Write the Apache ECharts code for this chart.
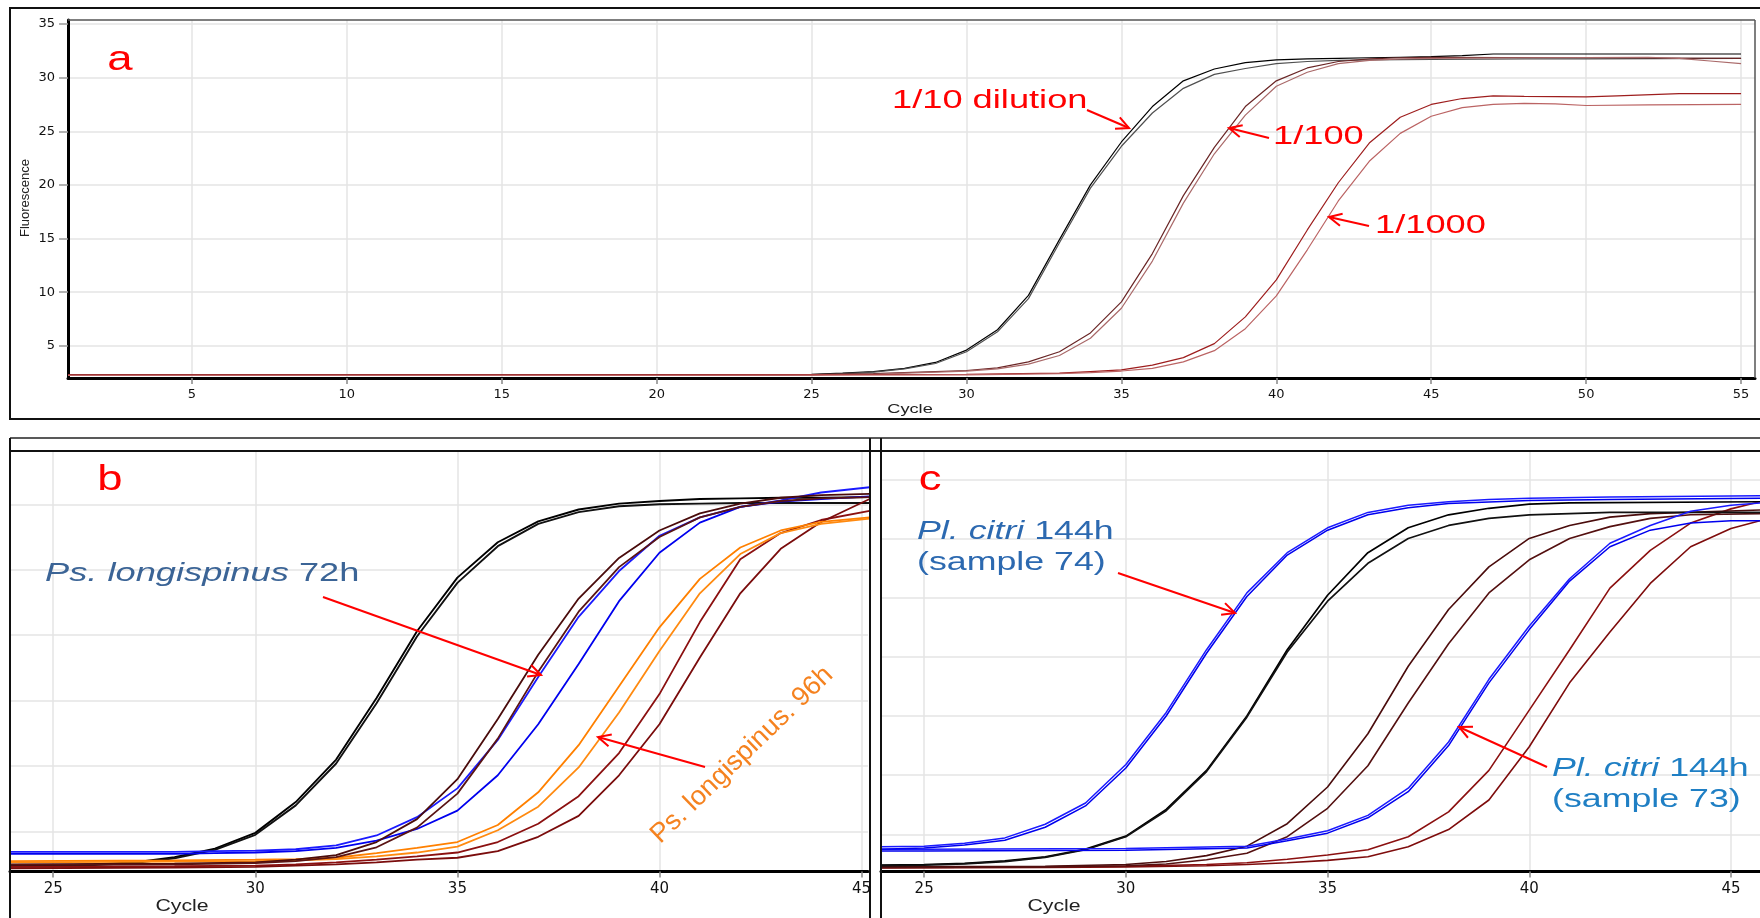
<!DOCTYPE html>
<html><head><meta charset="utf-8">
<script src="https://cdn.jsdelivr.net/npm/echarts@6/dist/echarts.min.js"></script>
<style>html,body{margin:0;padding:0;background:#fff}#c{width:1760px;height:918px}</style>
</head><body><div id="c"></div><script>
// ---- tick values ----
const aTicksX = [5,10,15,20,25,30,35,40,45,50,55];
const aTicksY = [5,10,15,20,25,30,35];
const bcTicksX = [25,30,35,40,45];
const bTicksY = [5,10,15,20,25,30];
const cTicksY = [5,10,15,20,25,30,35];

// ---- panel a : dilution series [cycle, fluorescence] ----
const aDil10_1 = [[1,2.3],[5,2.3],[10,2.3],[15,2.3],[20,2.3],[24,2.32],[25,2.35],[26,2.45],[27,2.6],[28,2.9],[29,3.45],[30,4.6],[31,6.5],[32,9.7],[33,14.9],[34,20.0],[35,24.0],[36,27.3],[37,29.7],[38,30.8],[39,31.4],[40,31.65],[41,31.75],[42,31.8],[43,31.85],[44,31.9],[45,31.95],[46,32.05],[47,32.2],[50,32.2],[55,32.2]];
const aDil10_2 = [[1,2.25],[10,2.25],[20,2.25],[24,2.28],[25,2.3],[26,2.4],[27,2.55],[28,2.85],[29,3.35],[30,4.45],[31,6.3],[32,9.4],[33,14.6],[34,19.7],[35,23.6],[36,26.7],[37,29.0],[38,30.3],[39,30.85],[40,31.3],[41,31.5],[42,31.6],[43,31.65],[45,31.7],[48,31.75],[50,31.75],[55,31.8]];
const aDil100_1 = [[1,2.3],[10,2.3],[20,2.3],[25,2.32],[27,2.4],[28,2.5],[29,2.6],[30,2.7],[31,2.95],[32,3.5],[33,4.45],[34,6.2],[35,9.1],[36,13.6],[37,19.0],[38,23.5],[39,27.3],[40,29.7],[41,30.9],[42,31.5],[43,31.75],[44,31.85],[45,31.9],[50,31.85],[55,31.8]];
const aDil100_2 = [[1,2.25],[10,2.25],[20,2.25],[25,2.28],[27,2.35],[28,2.45],[29,2.55],[30,2.65],[31,2.85],[32,3.3],[33,4.1],[34,5.7],[35,8.5],[36,12.9],[37,18.3],[38,22.9],[39,26.5],[40,29.2],[41,30.5],[42,31.3],[43,31.6],[44,31.75],[45,31.8],[48,31.85],[52,31.9],[53,31.8],[54,31.55],[55,31.3]];
const aDil1000_1 = [[1,2.3],[10,2.3],[20,2.3],[30,2.35],[33,2.45],[34,2.6],[35,2.75],[36,3.2],[37,3.9],[38,5.2],[39,7.7],[40,11.15],[41,15.8],[42,20.2],[43,23.9],[44,26.3],[45,27.5],[46,28.05],[47,28.3],[48,28.25],[50,28.2],[51,28.3],[53,28.5],[55,28.5]];
const aDil1000_2 = [[1,2.25],[10,2.25],[20,2.25],[30,2.3],[33,2.4],[34,2.5],[35,2.65],[36,2.9],[37,3.5],[38,4.55],[39,6.6],[40,9.65],[41,13.95],[42,18.5],[43,22.2],[44,24.8],[45,26.4],[46,27.2],[47,27.5],[48,27.6],[49,27.55],[50,27.4],[52,27.45],[55,27.5]];

// ---- panel b ----
const bBlack1 = [[23.9,2.4],[25,2.4],[26,2.5],[27,2.65],[28,3.05],[29,3.7],[30,4.9],[31,7.25],[32,10.5],[33,15.2],[34,20.3],[35,24.4],[36,27.1],[37,28.7],[38,29.6],[39,30.05],[40,30.25],[41,30.4],[42,30.45],[43,30.5],[44,30.5],[45.2,30.55]];
const bBlack2 = [[23.9,2.35],[25,2.35],[26,2.45],[27,2.6],[28,2.95],[29,3.6],[30,4.75],[31,7.0],[32,10.2],[33,14.8],[34,19.9],[35,24.0],[36,26.8],[37,28.5],[38,29.4],[39,29.85],[40,30.0],[41,30.05],[42,30.1],[43,30.1],[45.2,30.1]];
const bBrown1 = [[23.9,2.5],[28,2.55],[30,2.65],[31,2.85],[32,3.2],[33,4.2],[34,5.95],[35,9.0],[36,13.6],[37,18.5],[38,22.8],[39,25.9],[40,28.0],[41,29.3],[42,30.05],[43,30.5],[44,30.7],[45.2,30.8]];
const bBrown2 = [[23.9,2.45],[28,2.5],[30,2.6],[31,2.75],[32,3.05],[33,3.8],[34,5.3],[35,7.9],[36,12.1],[37,17.2],[38,21.8],[39,25.2],[40,27.5],[41,29.0],[42,29.8],[43,30.25],[44,30.45],[45.2,30.55]];
const bBlue1 = [[23.9,3.45],[28,3.45],[29,3.5],[30,3.55],[31,3.65],[32,3.95],[33,4.7],[34,6.1],[35,8.3],[36,12.0],[37,16.8],[38,21.4],[39,24.9],[40,27.6],[41,29.0],[42,29.8],[43,30.3],[44,30.9],[45.2,31.3]];
const bBlue2 = [[23.9,3.3],[28,3.3],[29,3.35],[30,3.4],[31,3.5],[32,3.75],[33,4.3],[34,5.2],[35,6.6],[36,9.3],[37,13.2],[38,17.8],[39,22.6],[40,26.3],[41,28.6],[42,29.8],[43,30.2],[44,30.4],[45.2,30.6]];
const bOrange1 = [[23.9,2.75],[28,2.8],[30,2.85],[31,2.9],[32,3.0],[33,3.35],[34,3.75],[35,4.2],[36,5.5],[37,8.0],[38,11.6],[39,16.1],[40,20.6],[41,24.3],[42,26.7],[43,28.0],[44,28.65],[45.2,29.0]];
const bOrange2 = [[23.9,2.65],[28,2.7],[30,2.75],[31,2.8],[32,2.9],[33,3.1],[34,3.4],[35,3.85],[36,5.1],[37,6.9],[38,9.9],[39,14.1],[40,18.8],[41,23.2],[42,26.2],[43,27.8],[44,28.5],[45.2,28.9]];
const bRed1 = [[23.9,2.3],[28,2.35],[30,2.4],[31,2.5],[32,2.65],[33,2.85],[34,3.1],[35,3.4],[36,4.2],[37,5.6],[38,7.7],[39,11.0],[40,15.5],[41,21.0],[42,25.8],[43,27.8],[44,28.8],[45.2,29.5]];
const bRed2 = [[23.9,2.2],[28,2.25],[30,2.3],[31,2.4],[32,2.5],[33,2.65],[34,2.85],[35,3.0],[36,3.5],[37,4.6],[38,6.2],[39,9.3],[40,13.2],[41,18.3],[42,23.2],[43,26.6],[44,28.65],[45.2,30.4]];

// ---- panel c ----
const cBlue74a = [[23.9,3.95],[25,4.0],[26,4.25],[27,4.7],[28,5.85],[29,7.65],[30,10.9],[31,15.3],[32,20.6],[33,25.4],[34,28.8],[35,30.9],[36,32.2],[37,32.8],[38,33.1],[39,33.3],[40,33.4],[42,33.5],[45.72,33.6]];
const cBlue74b = [[23.9,3.75],[25,3.85],[26,4.1],[27,4.5],[28,5.6],[29,7.4],[30,10.6],[31,15.0],[32,20.3],[33,25.1],[34,28.6],[35,30.7],[36,32.0],[37,32.6],[38,32.95],[40,33.2],[42,33.3],[45.72,33.4]];
const cBlue73a = [[23.9,3.75],[25,3.75],[30,3.8],[33,4.0],[34,4.6],[35,5.3],[36,6.6],[37,8.9],[38,12.8],[39,18.1],[40,22.6],[41,26.6],[42,29.6],[43,31.1],[44,32.3],[45,32.8],[45.72,33.0]];
const cBlue73b = [[23.9,3.6],[25,3.6],[30,3.65],[33,3.85],[34,4.45],[35,5.1],[36,6.4],[37,8.6],[38,12.5],[39,17.8],[40,22.3],[41,26.4],[42,29.3],[43,30.7],[44,31.3],[45,31.5],[45.72,31.5]];
const cBlack1 = [[23.9,2.4],[25,2.45],[26,2.55],[27,2.75],[28,3.1],[29,3.75],[30,4.85],[31,7.1],[32,10.4],[33,15.0],[34,20.6],[35,25.2],[36,28.8],[37,30.9],[38,32.0],[39,32.55],[40,32.9],[41,33.0],[45.72,33.1]];
const cBlack2 = [[23.9,2.35],[25,2.4],[26,2.5],[27,2.7],[28,3.05],[29,3.7],[30,4.8],[31,7.0],[32,10.3],[33,14.9],[34,20.4],[35,24.7],[36,27.9],[37,30.0],[38,31.1],[39,31.7],[40,32.0],[42,32.2],[45.72,32.2]];
const cBrown1 = [[23.9,2.25],[28,2.3],[30,2.45],[31,2.7],[32,3.2],[33,4.0],[34,5.9],[35,9.0],[36,13.5],[37,19.2],[38,24.0],[39,27.6],[40,30.0],[41,31.1],[42,31.8],[43,32.1],[45.72,32.4]];
const cBrown2 = [[23.9,2.2],[28,2.25],[30,2.35],[31,2.5],[32,2.85],[33,3.4],[34,4.8],[35,7.2],[36,10.8],[37,16.1],[38,21.1],[39,25.4],[40,28.2],[41,30.0],[42,31.0],[43,31.7],[44,32.0],[45.72,32.1]];
const cRed1 = [[23.9,2.2],[28,2.25],[30,2.3],[32,2.45],[33,2.6],[34,2.9],[35,3.25],[36,3.7],[37,4.8],[38,6.9],[39,10.4],[40,15.5],[41,20.6],[42,25.8],[43,29.0],[44,31.3],[45,32.5],[45.72,33.1]];
const cRed2 = [[23.9,2.15],[28,2.2],[30,2.25],[32,2.35],[33,2.45],[34,2.6],[35,2.8],[36,3.1],[37,3.95],[38,5.4],[39,7.9],[40,12.4],[41,17.8],[42,22.1],[43,26.2],[44,29.3],[45,30.85],[45.72,31.5]];

// ---- helpers ----
const SANS = 'Liberation Sans, Arial, sans-serif';
function ln(name, data, gi, color, w) {
  return {type:'line', name, data, xAxisIndex:gi, yAxisIndex:gi, showSymbol:false, symbol:'none',
    lineStyle:{color, width:w}, itemStyle:{color}, silent:true, animation:false, clip:true};
}
const grid = '#e4e4e4';
function xAx(gi, min, max, ticks, fs, margin) {
  return {type:'value', gridIndex:gi, min, max,
    axisLine:{show:true, onZero:false, lineStyle:{color:'#000', width:3}},
    axisTick:{show:true, customValues:ticks, length:6, lineStyle:{color:'#888', width:1.5}},
    axisLabel:{customValues:ticks, fontSize:fs, color:'#111', margin, fontFamily:'DejaVu Sans'},
    splitLine:{show:true, lineStyle:{color:grid, width:1.5}}};
}
function yAxHidden(gi, min, max, ticks) {
  return {type:'value', gridIndex:gi, min, max,
    axisLine:{show:false}, axisTick:{show:false, customValues:ticks},
    axisLabel:{show:false, customValues:ticks},
    splitLine:{show:true, lineStyle:{color:grid, width:1.5}}};
}
function arrow(x1,y1,x2,y2,color) {
  const a = Math.atan2(y2-y1, x2-x1), L = 14, s = 0.45;
  const p1 = [x2 - L*Math.cos(a-s), y2 - L*Math.sin(a-s)];
  const p2 = [x2 - L*Math.cos(a+s), y2 - L*Math.sin(a+s)];
  return [
    {type:'line', z:100, shape:{x1,y1,x2,y2}, style:{stroke:color, lineWidth:2}},
    {type:'polyline', z:100, shape:{points:[p1,[x2,y2],p2]}, style:{stroke:color, lineWidth:2, fill:null}}
  ];
}
function txt(x, y, text, opt) {
  return Object.assign({type:'text', z:100, x, y, scaleX: opt.scaleX || 1, rotation: opt.rotation || 0,
    style:{text, fill:opt.color, fontSize:opt.fontSize, fontFamily:opt.fontFamily || SANS,
      fontStyle:opt.fontStyle || 'normal', fontWeight: opt.fontWeight || 'normal',
      align:opt.align || 'left', verticalAlign:'middle', textAlign:opt.align || 'left', textVerticalAlign:'middle',
      rich: opt.rich}});
}
function richPair(fs, color) {
  return {i:{fontStyle:'italic', fontSize:fs, fontFamily:SANS, fill:color, color:color},
          n:{fontStyle:'normal', fontSize:fs, fontFamily:SANS, fill:color, color:color}};
}

const chart = echarts.init(document.getElementById('c'), null, {renderer:'canvas'});

const graphics = [
  // panel frames
  {type:'rect', z:90, shape:{x:10, y:8, width:1760, height:411}, style:{stroke:'#111', lineWidth:2, fill:null}},
  {type:'line', z:90, shape:{x1:68, y1:20, x2:1755, y2:20}, style:{stroke:'#555', lineWidth:1.5}},
  {type:'line', z:90, shape:{x1:1755, y1:20, x2:1755, y2:378}, style:{stroke:'#555', lineWidth:1.5}},
  {type:'line', z:90, shape:{x1:10, y1:438, x2:1760, y2:438}, style:{stroke:'#222', lineWidth:1.5}},
  {type:'line', z:90, shape:{x1:10, y1:451, x2:1760, y2:451}, style:{stroke:'#111', lineWidth:2}},
  {type:'line', z:90, shape:{x1:10, y1:438, x2:10, y2:918}, style:{stroke:'#111', lineWidth:2}},
  {type:'line', z:90, shape:{x1:870, y1:438, x2:870, y2:918}, style:{stroke:'#111', lineWidth:2}},
  {type:'line', z:90, shape:{x1:881, y1:438, x2:881, y2:918}, style:{stroke:'#111', lineWidth:2}},
  // panel letters
  txt(120, 60, 'a', {color:'#ff0000', fontSize:35, scaleX:1.3, align:'center'}),
  txt(110, 480, 'b', {color:'#ff0000', fontSize:35, scaleX:1.3, align:'center'}),
  txt(930, 480, 'c', {color:'#ff0000', fontSize:35, scaleX:1.3, align:'center'}),
  // axis names
  txt(910, 409, 'Cycle', {color:'#222', fontSize:13, scaleX:1.4, align:'center'}),
  txt(182, 907, 'Cycle', {color:'#222', fontSize:16, scaleX:1.33, align:'center'}),
  txt(1054, 907, 'Cycle', {color:'#222', fontSize:16, scaleX:1.33, align:'center'}),
  txt(25, 198, 'Fluorescence', {color:'#222', fontSize:13, align:'center', rotation:Math.PI/2}),
  // panel a annotations
  txt(892, 101, '1/10 dilution', {color:'#ff0000', fontSize:25, scaleX:1.45}),
  txt(1273, 137, '1/100', {color:'#ff0000', fontSize:25, scaleX:1.45}),
  txt(1375, 226, '1/1000', {color:'#ff0000', fontSize:25, scaleX:1.45}),
  ...arrow(1087, 110, 1129, 128, '#ff0000'),
  ...arrow(1269, 138, 1229, 128, '#ff0000'),
  ...arrow(1369, 226, 1329, 217, '#ff0000'),
  // panel b annotations
  txt(45, 574, '{i|Ps. longispinus} {n|72h}', {color:'#3b6496', fontSize:25, scaleX:1.45, rich:richPair(25,'#3b6496')}),
  ...arrow(323, 597, 541, 675, '#ff0000'),
  txt(742, 755, 'Ps. longispinus. 96h', {color:'#f5821f', fontSize:27, align:'center', rotation:44*Math.PI/180}),
  ...arrow(705, 767, 598, 737, '#ff0000'),
  // panel c annotations
  txt(917, 532, '{i|Pl. citri} {n|144h}', {color:'#2c69b0', fontSize:25, scaleX:1.43, rich:richPair(25,'#2c69b0')}),
  txt(917, 563, '(sample 74)', {color:'#2c69b0', fontSize:25, scaleX:1.43}),
  ...arrow(1118, 573, 1235, 613, '#ff0000'),
  txt(1552, 769, '{i|Pl. citri} {n|144h}', {color:'#1f7fc4', fontSize:25, scaleX:1.43, rich:richPair(25,'#1f7fc4')}),
  txt(1552, 800, '(sample 73)', {color:'#1f7fc4', fontSize:25, scaleX:1.43}),
  ...arrow(1547, 767, 1459, 727, '#ff0000')
];

const option = {
  animation:false,
  backgroundColor:'#fff',
  grid:[
    {left:68, top:20, width:1687, height:358},
    {left:10, top:451, width:858, height:420.5},
    {left:881, top:451, width:879, height:420.5}
  ],
  xAxis:[
    xAx(0, 1, 55.45, aTicksX, 13, 10),
    xAx(1, 23.93, 45.16, bcTicksX, 15, 10),
    xAx(2, 23.93, 45.72, bcTicksX, 15, 10)
  ],
  yAxis:[
    {type:'value', gridIndex:0, min:2, max:35.37,
     axisLine:{show:true, onZero:false, lineStyle:{color:'#000', width:3}},
     axisTick:{show:true, customValues:aTicksY, length:9, lineStyle:{color:'#999', width:1.5}},
     axisLabel:{customValues:aTicksY, fontSize:13, color:'#111', margin:13, fontFamily:'DejaVu Sans'},
     splitLine:{show:true, lineStyle:{color:grid, width:1.5}}},
    yAxHidden(1, 1.95, 34.07, bTicksY),
    yAxHidden(2, 1.86, 37.39, cTicksY)
  ],
  series:[
    ln('1/10 a', aDil10_1, 0, '#000000', 1.2),
    ln('1/10 b', aDil10_2, 0, '#505050', 1.2),
    ln('1/100 a', aDil100_1, 0, '#6a2626', 1.2),
    ln('1/100 b', aDil100_2, 0, '#aa6a6a', 1.2),
    ln('1/1000 a', aDil1000_1, 0, '#9e1e1e', 1.2),
    ln('1/1000 b', aDil1000_2, 0, '#bb6464', 1.2),

    ln('b black 1', bBlack1, 1, '#000000', 1.9),
    ln('b black 2', bBlack2, 1, '#111111', 1.9),
    ln('b red 1', bRed1, 1, '#8b1010', 1.8),
    ln('b red 2', bRed2, 1, '#7a0c0c', 1.8),
    ln('b orange 1', bOrange1, 1, '#ff8000', 1.8),
    ln('b orange 2', bOrange2, 1, '#ff8a10', 1.8),
    ln('b blue 1', bBlue1, 1, '#1a1aff', 1.8),
    ln('b blue 2', bBlue2, 1, '#0000ee', 1.8),
    ln('b brown 1', bBrown1, 1, '#4a0c0c', 1.8),
    ln('b brown 2', bBrown2, 1, '#5a1414', 1.8),

    ln('c red 1', cRed1, 2, '#8b1010', 1.6),
    ln('c red 2', cRed2, 2, '#7e0c0c', 1.6),
    ln('c brown 1', cBrown1, 2, '#4a0c0c', 1.6),
    ln('c brown 2', cBrown2, 2, '#541010', 1.6),
    ln('c black 1', cBlack1, 2, '#000000', 1.7),
    ln('c black 2', cBlack2, 2, '#111111', 1.7),
    ln('c blue 73 a', cBlue73a, 2, '#1a1aff', 1.5),
    ln('c blue 73 b', cBlue73b, 2, '#0000ee', 1.5),
    ln('c blue 74 a', cBlue74a, 2, '#1a1aff', 1.5),
    ln('c blue 74 b', cBlue74b, 2, '#0000ee', 1.5)
  ],
  graphic:{elements:graphics}
};
chart.setOption(option);
</script></body></html>
